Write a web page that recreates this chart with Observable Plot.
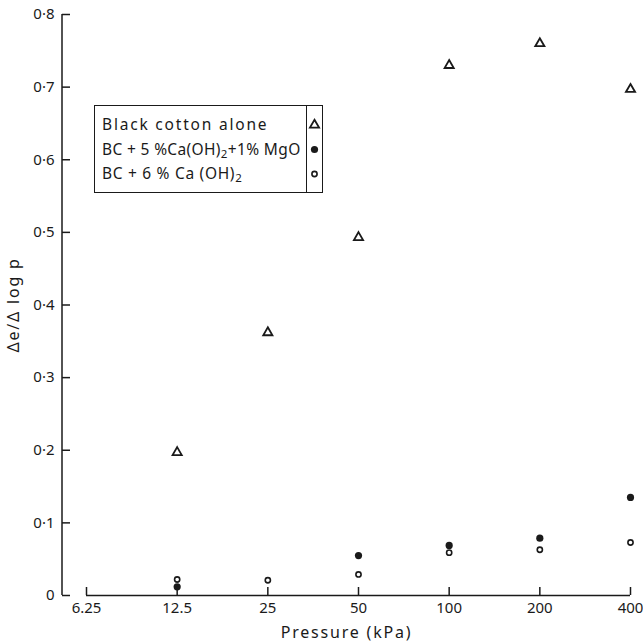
<!DOCTYPE html>
<html>
<head>
<meta charset="utf-8">
<script src="https://cdn.jsdelivr.net/npm/d3@7"></script>
<script src="https://cdn.jsdelivr.net/npm/@observablehq/plot@0.6"></script>
<style>
  html, body { margin: 0; padding: 0; background: #fff; }
  #chart { position: relative; width: 643px; height: 644px; font-family: "Noto Sans", sans-serif; color: #1a1a1a; }
  #chart svg { display: block; }
  #chart svg g[aria-label="x-axis label"] text,
  #chart svg g[aria-label="y-axis label"] text { letter-spacing: 1.8px; font-size: 16px; }
  .legend {
    position: absolute; left: 94px; top: 105px;
    display: grid; grid-template-columns: 212px 15px;
    border: 1.5px solid #1a1a1a; background: #fff;
    font-size: 15.5px;
  }
  .legend .names { border-right: 1.5px solid #1a1a1a; padding: 6px 0 6px 7px; line-height: 24.5px; white-space: nowrap; overflow: hidden; }
  .legend .names .l1 { letter-spacing: 1.8px; }
  .legend .names .l2 { letter-spacing: 0.35px; }
  .legend .names .l3 { letter-spacing: 0.7px; }
  .legend .keys { padding: 6px 0 6px 0; }
  .legend .keys svg { display: block; }
  .legend sub { font-size: 11.5px; vertical-align: -3px; line-height: 0; }
</style>
</head>
<body>
<div id="chart"></div>
<script>
// Pressure steps (kPa) and their printed labels
const pressureTicks = [6.25, 12.5, 25, 50, 100, 200, 400];
const pressureLabels = ["6.25", "12.5", "25", "50", "100", "200", "400"];

// Δe/Δ log p axis ticks and labels
const slopeTicks = [0, 0.1, 0.2, 0.3, 0.4, 0.5, 0.6, 0.7, 0.8];
const slopeLabels = ["0", "0·1", "0·2", "0·3", "0·4", "0·5", "0·6", "0·7", "0·8"];

// Series names
const seriesNames = ["Black cotton alone", "BC+5%Ca(OH)2+1% MgO", "BC+6% Ca(OH)2"];

// Black cotton soil alone
const bcPressure = [12.5, 25, 50, 100, 200, 400];
const bcSlope = [0.197, 0.362, 0.493, 0.730, 0.760, 0.697];

// BC + 5% Ca(OH)2 + 1% MgO
const limeMgPressure = [12.5, 50, 100, 200, 400];
const limeMgSlope = [0.012, 0.055, 0.069, 0.079, 0.135];

// BC + 6% Ca(OH)2
const limePressure = [12.5, 25, 50, 100, 200, 400];
const limeSlope = [0.022, 0.021, 0.029, 0.059, 0.063, 0.073];

const ink = "#1a1a1a";
const toRows = (p, v) => p.map((x, i) => ({pressure: x, slope: v[i]}));

// Vertical axis line drawn along the left edge of the frame
const yAxisLine = (index, scales, values, dims) => {
  const line = document.createElementNS("http://www.w3.org/2000/svg", "line");
  line.setAttribute("x1", dims.marginLeft);
  line.setAttribute("x2", dims.marginLeft);
  line.setAttribute("y1", scales.y(d3.max(slopeTicks)));
  line.setAttribute("y2", scales.y(d3.min(slopeTicks)));
  line.setAttribute("stroke", ink);
  line.setAttribute("stroke-width", 1.5);
  return line;
};

const chart = Plot.plot({
  width: 643,
  height: 644,
  marginTop: 14,
  marginBottom: 49,
  marginLeft: 62,
  marginRight: 13,
  style: {fontFamily: "Noto Sans", fontSize: "15px", color: ink, background: "#fff"},
  x: {type: "log", base: 2, domain: [6.25, 400], range: [86, 630]},
  y: {domain: [0, 0.8]},
  marks: [
    yAxisLine,
    Plot.ruleY([0], {x1: d3.min(pressureTicks), x2: d3.max(pressureTicks), stroke: ink, strokeWidth: 1.5}),
    Plot.axisY(slopeTicks, {
      tickSize: -8, tickPadding: 16, strokeWidth: 1.5, stroke: ink,
      tickFormat: (d) => slopeLabels[slopeTicks.indexOf(d)],
      label: "Δe/Δ log p", labelAnchor: "center", labelOffset: 55, labelArrow: "none"
    }),
    Plot.axisX(pressureTicks, {
      tickSize: -8, tickPadding: 15, strokeWidth: 1.5, stroke: ink,
      tickFormat: (d) => pressureLabels[pressureTicks.indexOf(d)],
      label: "Pressure (kPa)", labelAnchor: "center", labelOffset: 42, labelArrow: "none"
    }),
    Plot.dot(toRows(bcPressure, bcSlope), {x: "pressure", y: "slope", symbol: "triangle", r: 3.4, fill: "none", stroke: ink, strokeWidth: 1.8}),
    Plot.dot(toRows(limeMgPressure, limeMgSlope), {x: "pressure", y: "slope", symbol: "circle", r: 3.6, fill: ink, stroke: "none"}),
    Plot.dot(toRows(limePressure, limeSlope), {x: "pressure", y: "slope", symbol: "circle", r: 2.6, fill: "none", stroke: ink, strokeWidth: 1.6})
  ]
});

const root = document.getElementById("chart");
root.appendChild(chart);

// Legend box with series names and their markers
const legend = document.createElement("div");
legend.className = "legend";
const sub = (s) => s.replace(/\(OH\)2/g, "(OH)<sub>2</sub>");
const namesHtml = [
  `<span class="l1">${seriesNames[0]}</span>`,
  `<span class="l2">${sub(seriesNames[1]).replace("BC+5%", "BC + 5 %")}</span>`,
  `<span class="l3">${sub(seriesNames[2]).replace("BC+6%", "BC + 6 %").replace("Ca(", "Ca (")}</span>`
];
legend.innerHTML = `<div class="names">${namesHtml.join("<br>")}</div><div class="keys"></div>`;
root.appendChild(legend);

const keys = legend.querySelector(".keys");
const keySvg = d3.create("svg").attr("width", 15).attr("height", 73.5);
const sym = (type, r) => d3.symbol(type, Math.PI * r * r)();
keySvg.append("path").attr("d", sym(d3.symbolTriangle, 3.4)).attr("transform", "translate(7.5,13)")
  .attr("fill", "none").attr("stroke", ink).attr("stroke-width", 1.8);
keySvg.append("circle").attr("cx", 7.5).attr("cy", 37.5).attr("r", 3.6).attr("fill", ink);
keySvg.append("circle").attr("cx", 7.5).attr("cy", 62).attr("r", 2.6).attr("fill", "none").attr("stroke", ink).attr("stroke-width", 1.6);
keys.appendChild(keySvg.node());
</script>
</body>
</html>
